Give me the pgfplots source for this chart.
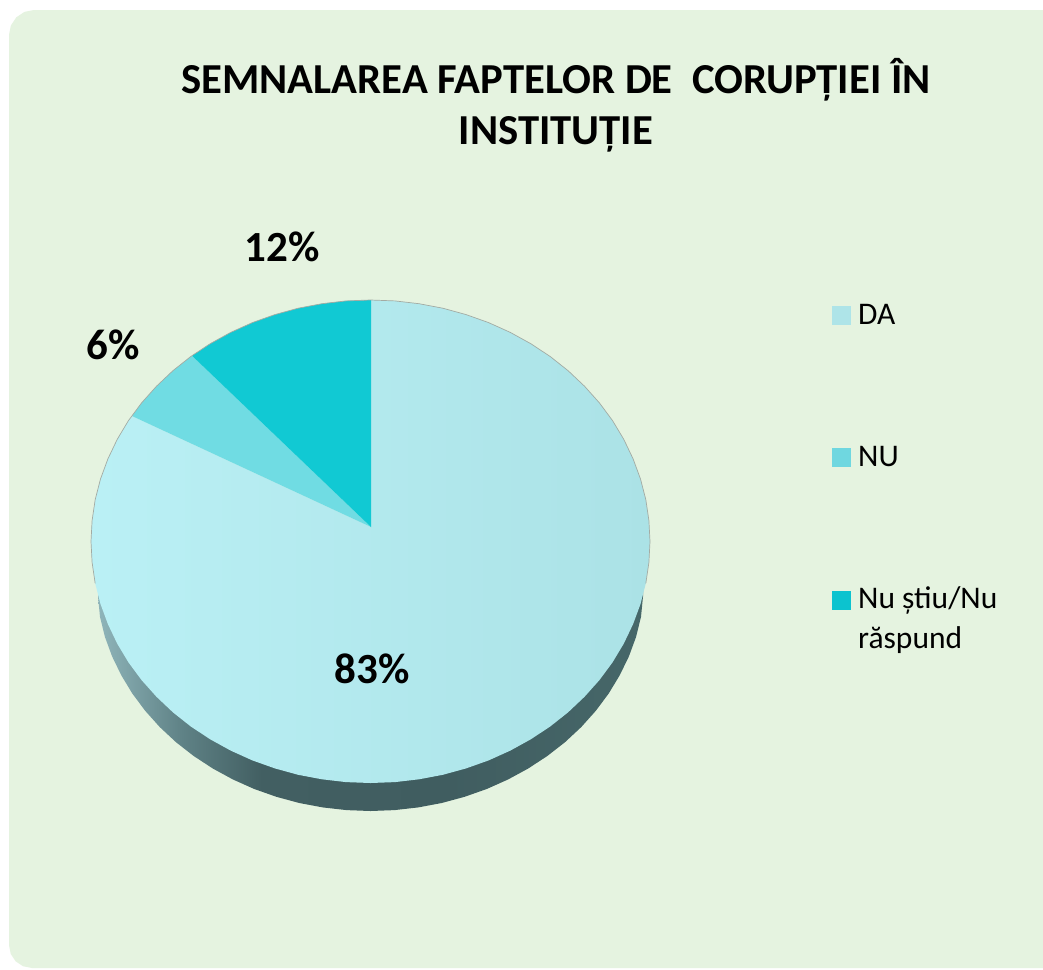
\documentclass[border=0pt]{standalone}
\usepackage{fontspec}
\setmainfont{Carlito}
\usepackage{pgfplots}
\pgfplotsset{compat=1.18}
\definecolor{bgc}{HTML}{E5F3E0}
\definecolor{daL}{HTML}{BAF0F5}
\definecolor{daR}{HTML}{ABE2E6}
\definecolor{nuc}{HTML}{70DCE3}
\definecolor{nsc}{HTML}{11C9D3}
\definecolor{leg1}{HTML}{AEE4E8}
\definecolor{leg2}{HTML}{6FD7E0}
\definecolor{leg3}{HTML}{0CC3CF}
\definecolor{rim}{HTML}{A3ABA3}
\definecolor{s1}{HTML}{8FB5BA}
\definecolor{s2}{HTML}{5F8286}
\definecolor{s3}{HTML}{425F62}
\definecolor{s4}{HTML}{405D60}
\definecolor{s5}{HTML}{466769}
\pgfdeclarehorizontalshading{sidegrad}{100bp}{color(0bp)=(s1); color(25bp)=(s1); color(32.7bp)=(s2); color(40bp)=(s3); color(57bp)=(s4); color(75bp)=(s5); color(100bp)=(s5)}
\begin{document}
\begin{tikzpicture}
\begin{axis}[
  scale only axis, width=1043pt, height=969pt,
  xmin=0, xmax=1043, ymin=0, ymax=969, y dir=reverse,
  hide axis, clip=false, enlargelimits=false,
]
% page and panel
\addplot[fill=white, draw=none] coordinates {(0,0)(1043,0)(1043,969)(0,969)} -- cycle;
\addplot[fill=bgc, draw=none] coordinates {
 (9,35)(10.9,25.4)(16.3,17.3)(24.4,11.9)(34,10)(1043,10)(1043,968)
 (32,968)(23,966.2)(15.7,961.3)(10.8,954)(9,945)} -- cycle;
% pie side
\addplot[shading=sidegrad, draw=none] coordinates {
 (643,540)(643,576)(643,596.5)(641.0,616.8)(636.1,636.8)(628.9,656.4)(619.7,675.3)(608.7,693.5)(595.8,710.8)(581.2,727.1)(565.0,742.2)(547.3,756.0)(528.2,768.5)(508.0,779.5)(486.7,789.0)(464.6,796.8)(441.7,803.0)(418.3,807.4)(394.5,810.1)(370.5,811)
 (346.5,810.1)(322.7,807.4)(299.3,803.0)(276.4,796.8)(254.3,789.0)(233.0,779.5)(212.8,768.5)(193.7,756.0)(176.0,742.2)(159.8,727.1)(145.2,710.8)(132.3,693.5)(121.3,675.3)(112.1,656.4)(104.9,636.8)(100,616.8)(98,596.5)(98,576)(98,540)} -- cycle;
% DA 83%
\addplot[left color=daL, right color=daR, draw=none] coordinates {
 (371,527)(371,300)(394.9,300.9)(419.0,303.7)(442.8,308.2)(466.1,314.6)(488.6,322.6)(510.3,332.4)(530.8,343.7)(550.2,356.5)(568.1,370.7)(584.6,386.3)(599.5,403.0)(612.6,420.7)(623.8,439.4)(633.1,458.9)(640.5,479.0)(645.8,499.6)(648.9,520.5)
 (650.0,541.5)(648.9,562.5)(645.8,583.4)(640.5,604.0)(633.1,624.1)(623.8,643.6)(612.6,662.3)(599.5,680.0)(584.6,696.7)(568.1,712.3)(550.2,726.5)(530.8,739.3)(510.3,750.6)(488.6,760.4)(466.1,768.4)(442.8,774.8)(419.0,779.3)(394.9,782.1)(370.5,783.0)
 (346.1,782.1)(322.0,779.3)(298.2,774.8)(274.9,768.4)(252.4,760.4)(230.7,750.6)(210.2,739.3)(190.8,726.5)(172.9,712.3)(156.4,696.7)(141.5,680.0)(128.4,662.3)(117.2,643.6)(107.9,624.1)(100.5,604.0)(95.2,583.4)(92.1,562.5)(91.0,541.5)
 (92.1,520.5)(95.2,499.6)(100.5,479.0)(107.9,458.9)(117.2,439.4)(128.4,420.7)(132,416)} -- cycle;
% NU 6%
\addplot[fill=nuc, draw=none] coordinates {
 (371,527)(132,416)(141.5,403.0)(156.4,386.3)(172.9,370.7)(192,355.7)} -- cycle;
% Nu stiu 12%
\addplot[fill=nsc, draw=none] coordinates {
 (371,527)(192,355.7)(210.2,343.7)(230.7,332.4)(252.4,322.6)(274.9,314.6)(298.2,308.2)(322.0,303.7)(346.1,300.9)(371,300)} -- cycle;
% rim
\addplot[draw=rim, line width=0.7pt] coordinates {
 (95.2,583.4)(92.1,562.5)(91.0,541.5)(92.1,520.5)(95.2,499.6)(100.5,479.0)(107.9,458.9)(117.2,439.4)(128.4,420.7)(141.5,403.0)(156.4,386.3)(172.9,370.7)(190.8,356.5)(210.2,343.7)(230.7,332.4)(252.4,322.6)(274.9,314.6)(298.2,308.2)(322.0,303.7)(346.1,300.9)(370.5,300.0)
 (394.9,300.9)(419.0,303.7)(442.8,308.2)(466.1,314.6)(488.6,322.6)(510.3,332.4)(530.8,343.7)(550.2,356.5)(568.1,370.7)(584.6,386.3)(599.5,403.0)(612.6,420.7)(623.8,439.4)(633.1,458.9)(640.5,479.0)(645.8,499.6)(648.9,520.5)(650.0,541.5)(648.9,562.5)(645.8,583.4)};
% legend keys
\addplot[only marks, mark=square*, mark size=9pt, mark options={fill=leg1, draw=leg1, line width=0pt}] coordinates {(841,315)};
\addplot[only marks, mark=square*, mark size=9pt, mark options={fill=leg2, draw=leg2, line width=0pt}] coordinates {(841,457)};
\addplot[only marks, mark=square*, mark size=9pt, mark options={fill=leg3, draw=leg3, line width=0pt}] coordinates {(841,600)};
% text
\node[anchor=base, font=\fontsize{42.7}{51.5}\selectfont\bfseries, inner sep=0pt] at (axis cs:556,93) {SEMNALAREA FAPTELOR DE \ CORUPȚIEI ÎN};
\node[anchor=base, font=\fontsize{42.7}{51.5}\selectfont\bfseries, inner sep=0pt] at (axis cs:556,144) {INSTITUȚIE};
\node[anchor=base, font=\fontsize{43}{49}\selectfont\bfseries, inner sep=0pt] at (axis cs:372,683) {83\%};
\node[anchor=base, font=\fontsize{43}{49}\selectfont\bfseries, inner sep=0pt] at (axis cs:113,359) {6\%};
\node[anchor=base, font=\fontsize{43}{49}\selectfont\bfseries, inner sep=0pt] at (axis cs:282,261) {12\%};
\node[anchor=base west, font=\fontsize{31.5}{35}\selectfont, inner sep=0pt] at (axis cs:858,324) {DA};
\node[anchor=base west, font=\fontsize{31.5}{35}\selectfont, inner sep=0pt] at (axis cs:858,466) {NU};
\node[anchor=base west, font=\fontsize{31.5}{35}\selectfont, inner sep=0pt] at (axis cs:858,608) {Nu știu/Nu};
\node[anchor=base west, font=\fontsize{31.5}{35}\selectfont, inner sep=0pt] at (axis cs:858,648) {răspund};
\end{axis}
\end{tikzpicture}
\end{document}
